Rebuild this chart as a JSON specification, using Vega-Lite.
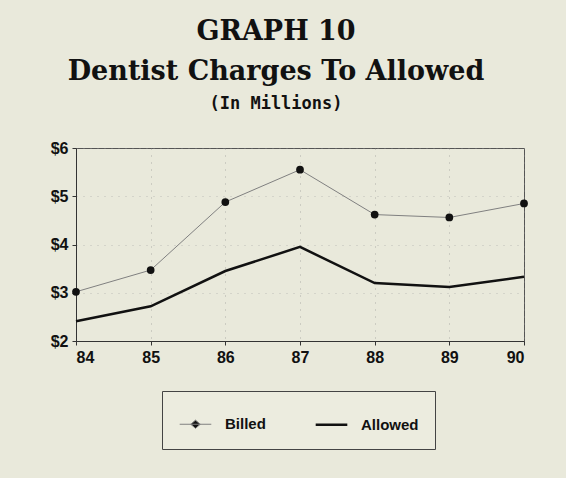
{
  "$schema": "https://vega.github.io/schema/vega-lite/v6.json",
  "width": 448,
  "height": 193,
  "autosize": "none",
  "padding": {"left": 76, "top": 148, "right": 42, "bottom": 137},
  "background": "#e9e9db",
  "title": {
    "text": ["GRAPH 10", "Dentist Charges To Allowed"],
    "subtitle": "(In Millions)",
    "font": "DejaVu Serif",
    "fontWeight": "bold",
    "fontSize": 27,
    "lineHeight": 40,
    "color": "#111",
    "subtitleFont": "DejaVu Sans Mono",
    "subtitleFontWeight": "bold",
    "subtitleFontSize": 17,
    "subtitleColor": "#111",
    "subtitlePadding": 10,
    "anchor": "middle",
    "dx": -24,
    "offset": 27
  },
  "data": {
    "values": [
      {"year": 84, "series": "Billed", "value": 3.02},
      {"year": 85, "series": "Billed", "value": 3.47},
      {"year": 86, "series": "Billed", "value": 4.88},
      {"year": 87, "series": "Billed", "value": 5.55},
      {"year": 88, "series": "Billed", "value": 4.62},
      {"year": 89, "series": "Billed", "value": 4.56},
      {"year": 90, "series": "Billed", "value": 4.85},
      {"year": 84, "series": "Allowed", "value": 2.41},
      {"year": 85, "series": "Allowed", "value": 2.72},
      {"year": 86, "series": "Allowed", "value": 3.45},
      {"year": 87, "series": "Allowed", "value": 3.95},
      {"year": 88, "series": "Allowed", "value": 3.2},
      {"year": 89, "series": "Allowed", "value": 3.12},
      {"year": 90, "series": "Allowed", "value": 3.33}
    ]
  },
  "encoding": {
    "x": {
      "field": "year",
      "type": "quantitative",
      "scale": {"domain": [84, 90], "nice": false, "zero": false},
      "axis": {
        "title": null,
        "values": [84, 85, 86, 87, 88, 89, 90],
        "format": "d",
        "labelFont": "Liberation Sans",
        "labelFontWeight": "bold",
        "labelFontSize": 16,
        "labelColor": "#111",
        "labelPadding": 4,
        "tickSize": 4,
        "tickColor": "#333",
        "domainColor": "#333",
        "grid": true,
        "gridColor": "#888",
        "gridDash": [1, 6],
        "gridOpacity": 0.6
      }
    },
    "y": {
      "field": "value",
      "type": "quantitative",
      "scale": {"domain": [2, 6], "nice": false, "zero": false},
      "axis": {
        "title": null,
        "values": [2, 3, 4, 5, 6],
        "format": "$.0f",
        "labelFont": "Liberation Sans",
        "labelFontWeight": "bold",
        "labelFontSize": 16,
        "labelColor": "#111",
        "labelPadding": 4,
        "tickSize": 4,
        "tickColor": "#333",
        "domainColor": "#333",
        "grid": true,
        "gridColor": "#999",
        "gridDash": [1, 6],
        "gridOpacity": 0.5
      }
    }
  },
  "layer": [
    {
      "mark": {"type": "line"},
      "encoding": {
        "color": {
          "field": "series",
          "type": "nominal",
          "scale": {"domain": ["Billed", "Allowed"], "range": ["#808080", "#111111"]},
          "legend": {
            "title": null,
            "orient": "none",
            "legendX": 86,
            "legendY": 243,
            "direction": "horizontal",
            "columns": 2,
            "columnPadding": 44,
            "padding": 16,
            "strokeColor": "#444",
            "fillColor": "#ececdf",
            "symbolType": "stroke",
            "symbolSize": 1000,
            "symbolStrokeColor": "#111",
            "symbolStrokeWidth": 1.5,
            "labelFont": "Liberation Sans",
            "labelFontWeight": "bold",
            "labelFontSize": 15,
            "labelColor": "#111",
            "labelOffset": 12,
            "encode": {
              "symbols": {
                "update": {
                  "shape": {"signal": "datum.value == 'Billed' ? 'M-1,0H1M-0.3,0L0,-0.26L0.3,0L0,0.26Z' : 'M-1,0H1'"},
                  "fill": {"signal": "datum.value == 'Billed' ? '#111' : 'transparent'"},
                  "stroke": {"value": "#111"},
                  "strokeWidth": {"value": 1.5}
                }
              }
            }
          }
        },
        "strokeWidth": {
          "field": "series",
          "type": "nominal",
          "scale": {"domain": ["Billed", "Allowed"], "range": [1, 2.5]},
          "legend": null
        }
      }
    },
    {
      "transform": [{"filter": "datum.series == 'Billed'"}],
      "mark": {"type": "circle", "color": "#111", "size": 60, "opacity": 1},
      "encoding": {}
    }
  ],
  "config": {
    "view": {"stroke": "#555", "strokeWidth": 1}
  }
}
